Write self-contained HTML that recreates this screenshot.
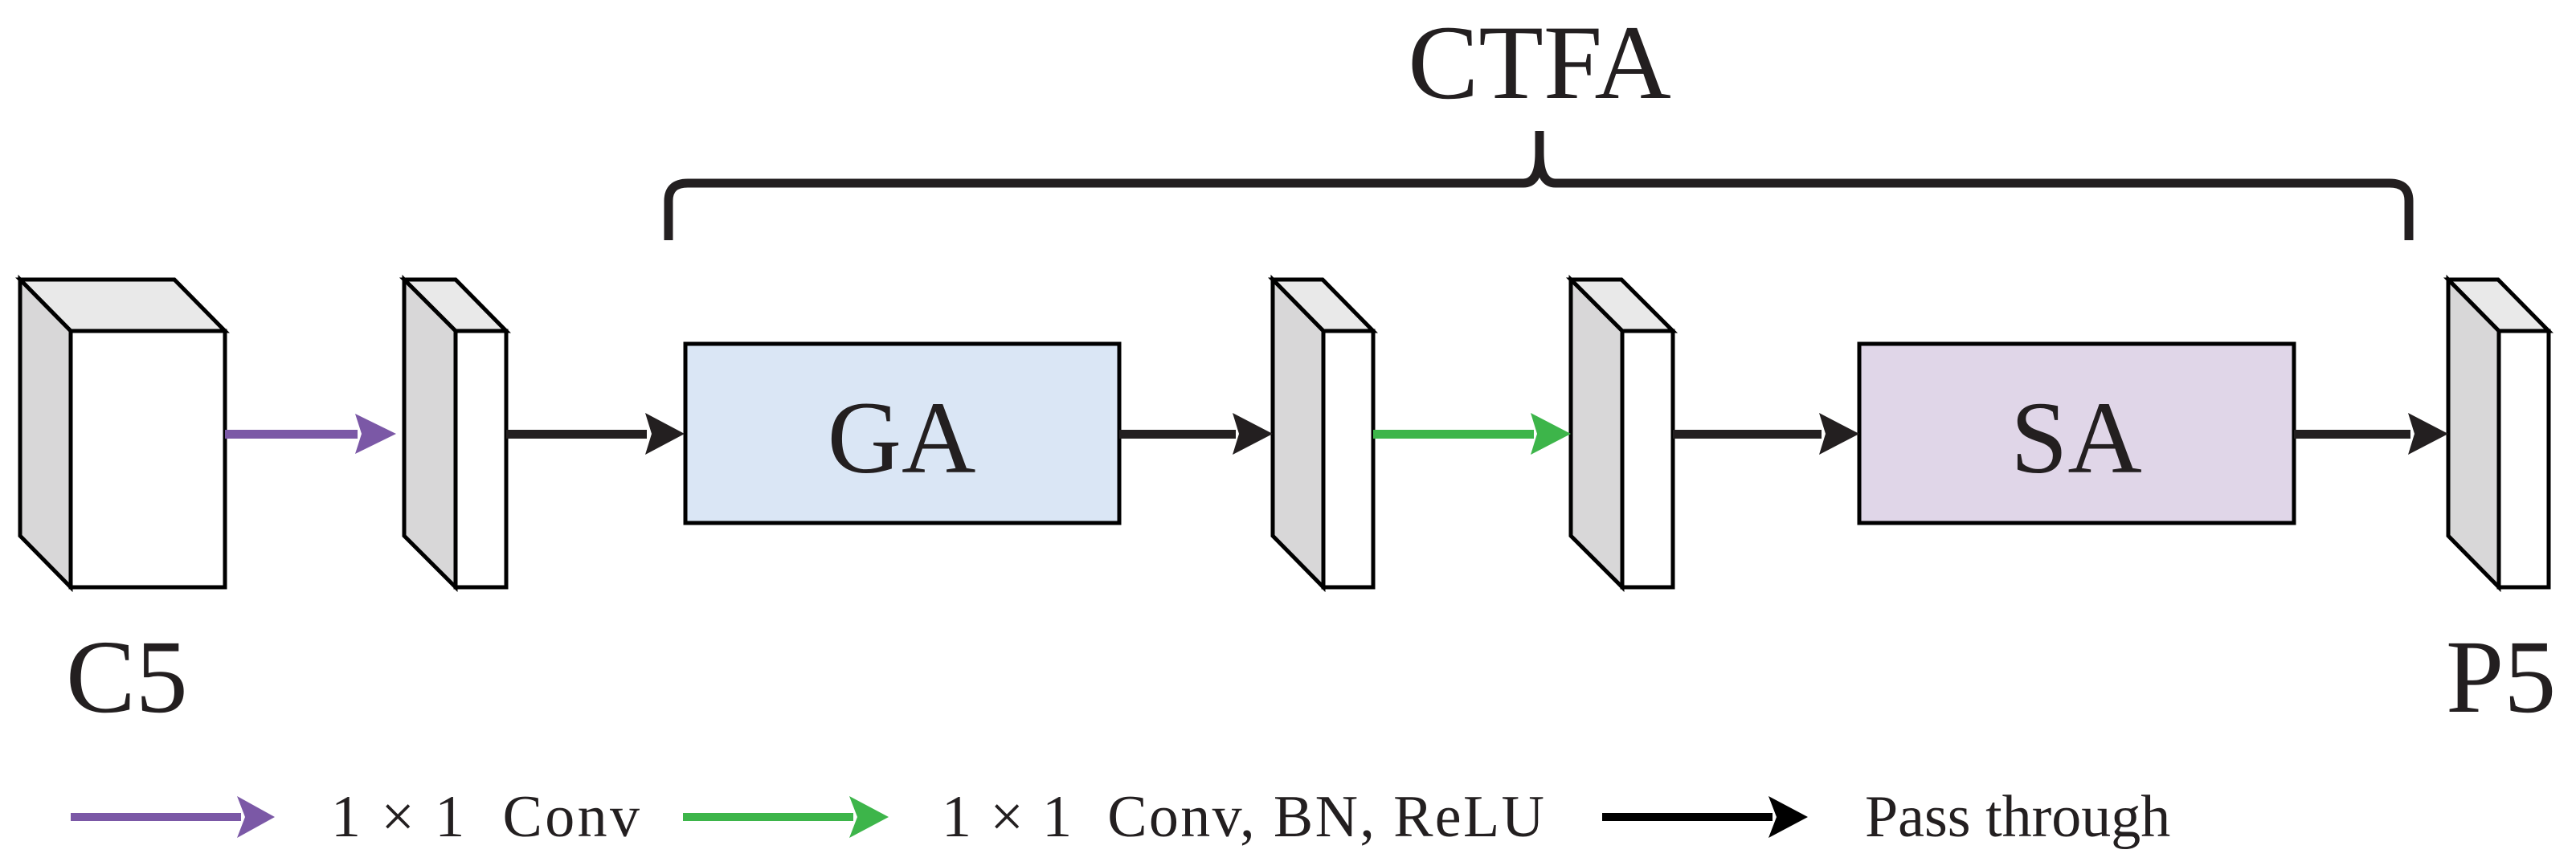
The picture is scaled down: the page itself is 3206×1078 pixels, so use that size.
<!DOCTYPE html>
<html><head><meta charset="utf-8"><style>
html,body{margin:0;padding:0;background:#fff;}
svg{display:block;}
text{font-family:"Liberation Serif",serif;fill:#231f20;white-space:pre;}
</style></head><body>
<svg width="3206" height="1078" viewBox="0 0 3206 1078" xmlns="http://www.w3.org/2000/svg">
<text x="1916" y="122" font-size="132" text-anchor="middle">CTFA</text>
<path d="M832 299 L832 250 Q832 228 856 228 L1896 228 Q1916 228 1916 190 L1916 163 M1916 190 Q1916 228 1936 228 L2974 228 Q2998 228 2998 250 L2998 299" fill="none" stroke="#231f20" stroke-width="11"/>

<g stroke="#000" stroke-width="5" stroke-linejoin="miter">
<polygon points="25,348 217,348 280,412 88,412" fill="#e9e9e9"/>
<polygon points="25,348 88,412 88,731 25,667" fill="#d8d7d8"/>
<rect x="88" y="412" width="192" height="319" fill="#fff"/>
<polygon points="503,348 567,348 630,412 567,412" fill="#e9e9e9"/>
<polygon points="503,348 567,412 567,731 503,667" fill="#d8d7d8"/>
<rect x="567" y="412" width="63" height="319" fill="#fff"/>
<polygon points="1584,348 1646,348 1709,412 1647,412" fill="#e9e9e9"/>
<polygon points="1584,348 1647,412 1647,731 1584,667" fill="#d8d7d8"/>
<rect x="1647" y="412" width="62" height="319" fill="#fff"/>
<polygon points="1955,348 2018,348 2082,412 2019,412" fill="#e9e9e9"/>
<polygon points="1955,348 2019,412 2019,731 1955,667" fill="#d8d7d8"/>
<rect x="2019" y="412" width="63" height="319" fill="#fff"/>
<polygon points="3047,348 3109,348 3172,412 3110,412" fill="#e9e9e9"/>
<polygon points="3047,348 3110,412 3110,731 3047,667" fill="#d8d7d8"/>
<rect x="3110" y="412" width="62" height="319" fill="#fff"/>
<rect x="853" y="428" width="540" height="223" fill="#dae6f5"/>
<rect x="2314" y="428" width="541" height="223" fill="#e0d6e8"/>
</g>
<text x="1122" y="588" font-size="128" text-anchor="middle">GA</text>
<text x="2584" y="588" font-size="128" text-anchor="middle">SA</text>

<g>
<rect x="280" y="535" width="165" height="11" fill="#7b58a6"/>
<polygon points="442,515 493,540 442,565 450,540" fill="#7b58a6"/>
<rect x="630" y="535" width="175" height="11" fill="#231f20"/>
<polygon points="803,514 852,540 803,566 811,540" fill="#231f20"/>
<rect x="1393" y="535" width="145" height="11" fill="#231f20"/>
<polygon points="1534,514 1584,540 1534,566 1542,540" fill="#231f20"/>
<rect x="1709" y="535" width="200" height="11" fill="#3db54a"/>
<polygon points="1905,514 1955,540 1905,566 1913,540" fill="#3db54a"/>
<rect x="2082" y="535" width="185" height="11" fill="#231f20"/>
<polygon points="2264,514 2314,540 2264,566 2272,540" fill="#231f20"/>
<rect x="2855" y="535" width="145" height="11" fill="#231f20"/>
<polygon points="2997,514 3047,540 2997,566 3005,540" fill="#231f20"/>
</g>

<text x="82" y="886" font-size="130">C5</text>
<text x="3044" y="886" font-size="130">P5</text>

<rect x="88" y="1012" width="212" height="10" fill="#7b58a6"/>
<polygon points="295,991 342,1017 295,1043 305,1017" fill="#7b58a6"/>
<text x="412" y="1041" font-size="74" textLength="384" lengthAdjust="spacing">1 × 1  Conv</text>
<rect x="850" y="1012" width="212" height="10" fill="#3db54a"/>
<polygon points="1057,991 1106,1017 1057,1043 1067,1017" fill="#3db54a"/>
<text x="1172" y="1041" font-size="74" textLength="750" lengthAdjust="spacing">1 × 1  Conv, BN, ReLU</text>
<rect x="1994" y="1012" width="212" height="10" fill="#000"/>
<polygon points="2201,991 2250,1017 2201,1043 2211,1017" fill="#000"/>
<text x="2321" y="1041" font-size="74">Pass through</text>
</svg>
</body></html>
